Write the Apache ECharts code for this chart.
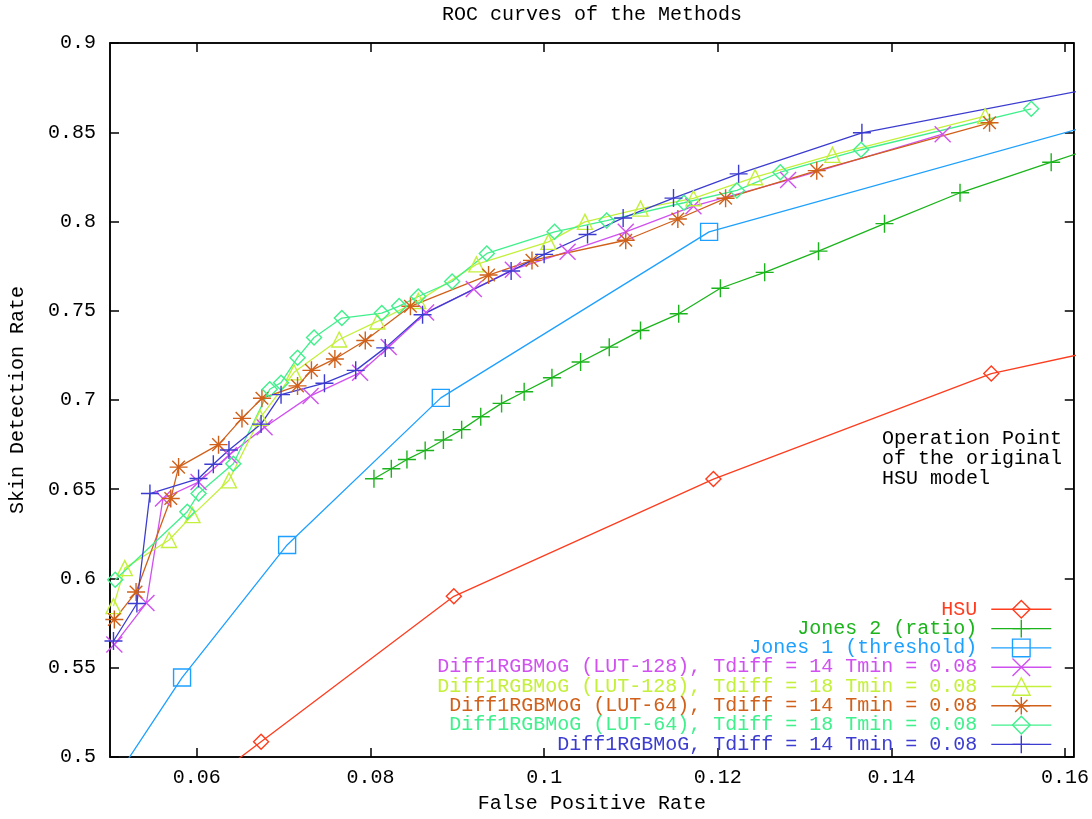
<!DOCTYPE html>
<html>
<head>
<meta charset="utf-8">
<script src="https://cdn.jsdelivr.net/npm/echarts@6/dist/echarts.min.js"></script>
<style>
html,body{margin:0;padding:0;background:#fff;}
#chart{width:1092px;height:819px;}
</style>
</head>
<body>
<div id="chart"></div>
<script>
// tick values
var xTicks = [0.06, 0.08, 0.1, 0.12, 0.14, 0.16];
var yTicks = [0.5, 0.55, 0.6, 0.65, 0.7, 0.75, 0.8, 0.85, 0.9];

// curves [false positive rate, detection rate]
var hsu = [[0.0555,0.465],[0.0674,0.5085],[0.0896,0.590],[0.1195,0.6557],[0.1515,0.7148],[0.175,0.7395]];
var jones2 = [[0.0804,0.6559],[0.0824,0.6615],[0.0842,0.6667],[0.0863,0.6717],[0.0884,0.6776],[0.0905,0.6834],
	[0.0927,0.6906],[0.0951,0.6981],[0.0977,0.7046],[0.1009,0.7125],[0.1042,0.7213],[0.1075,0.7296],[0.1111,0.7389],
	[0.1155,0.7483],[0.1203,0.7626],[0.1254,0.7715],[0.1316,0.7834],[0.1392,0.7988],[0.1479,0.8161],[0.1584,0.8332],[0.168,0.849]];
var jones1 = [[0.049,0.476],[0.0583,0.5445],[0.0704,0.6188],[0.0881,0.7012],[0.119,0.7942],[0.172,0.866]];
var lut128t14 = [[0.0505,0.563],[0.0542,0.5863],[0.0561,0.6448],[0.0602,0.654],[0.0637,0.669],[0.0678,0.6847],
	[0.0731,0.7023],[0.0788,0.7153],[0.0821,0.7297],[0.0864,0.749],[0.0919,0.7622],[0.0964,0.773],[0.1027,0.7831],
	[0.1094,0.7942],[0.1172,0.8086],[0.1281,0.8232],[0.1459,0.8489]];
var lut128t18 = [[0.0504,0.5845],[0.0517,0.6058],[0.0568,0.6216],[0.0595,0.6355],[0.0637,0.655],[0.0673,0.69],
	[0.0712,0.7155],[0.0764,0.7339],[0.0808,0.744],[0.0855,0.7555],[0.0922,0.776],[0.1005,0.7886],[0.1047,0.7998],
	[0.1111,0.8072],[0.1172,0.813],[0.1243,0.8248],[0.1332,0.8373],[0.1508,0.8591]];
var lut64t14 = [[0.0505,0.577],[0.053,0.5924],[0.057,0.6448],[0.0579,0.6624],[0.0625,0.675],[0.0652,0.6897],
	[0.0675,0.701],[0.0716,0.7079],[0.0732,0.7166],[0.0759,0.723],[0.0794,0.7333],[0.0846,0.7525],[0.0936,0.77],
	[0.0986,0.7782],[0.1094,0.7895],[0.1154,0.8014],[0.1209,0.813],[0.1314,0.8285],[0.1513,0.8553]];
var lut64t18 = [[0.0506,0.5993],[0.0589,0.6374],[0.0602,0.6476],[0.0642,0.6643],[0.0684,0.706],[0.0697,0.7097],
	[0.0716,0.7237],[0.0735,0.735],[0.0767,0.7459],[0.0813,0.7487],[0.0833,0.7526],[0.0855,0.758],[0.0894,0.7664],
	[0.0934,0.7821],[0.1012,0.7942],[0.1072,0.8005],[0.1161,0.8105],[0.1222,0.8174],[0.1272,0.8276],[0.1365,0.8402],[0.1561,0.8631]];
var diffT14 = [[0.0504,0.565],[0.0531,0.586],[0.0546,0.6476],[0.0602,0.656],[0.0619,0.664],[0.0637,0.672],
	[0.0674,0.6865],[0.0697,0.703],[0.0747,0.7094],[0.0783,0.7166],[0.0817,0.7292],[0.086,0.7478],[0.0962,0.7723],
	[0.1,0.7816],[0.105,0.7927],[0.1091,0.802],[0.1149,0.8131],[0.1224,0.8267],[0.1366,0.8497],[0.17,0.881]];

var FONT = 'Liberation Mono';
var FS = 20;
var PLUS = 'path://M0,5L10,5M5,0L5,10';
var CROSS = 'path://M0,0L10,10M10,0L0,10';
var STAR = 'path://M0,5L10,5M5,0L5,10M1.5,1.5L8.5,8.5M8.5,1.5L1.5,8.5';

// name, data, colour, symbol, size
var curves = [
	['HSU', hsu, '#ff3c1e', 'diamond', 15],
	['Jones 2 (ratio)', jones2, '#1cb41c', PLUS, 18],
	['Jones 1 (threshold)', jones1, '#1ea0ff', 'rect', 17],
	['Diff1RGBMoG (LUT-128), Tdiff = 14 Tmin = 0.08', lut128t14, '#d050f0', CROSS, 16],
	['Diff1RGBMoG (LUT-128), Tdiff = 18 Tmin = 0.08', lut128t18, '#c4f03c', 'triangle', 15],
	['Diff1RGBMoG (LUT-64), Tdiff = 14 Tmin = 0.08', lut64t14, '#d0601a', STAR, 18],
	['Diff1RGBMoG (LUT-64), Tdiff = 18 Tmin = 0.08', lut64t18, '#40f08c', 'diamond', 15],
	['Diff1RGBMoG, Tdiff = 14 Tmin = 0.08', diffT14, '#3c3cd0', PLUS, 18]
];

function fmt(v){ return String(parseFloat(v.toFixed(2))); }

var series = [], legendData = [];
for (var i = 0; i < curves.length; i++) {
	var c = curves[i];
	series.push({
		name: c[0], type: 'line', data: c[1],
		symbol: c[3], symbolSize: c[4], showAllSymbol: true, clip: true,
		lineStyle: {color: c[2], width: 1.3},
		itemStyle: {color: 'none', borderColor: c[2], borderWidth: 1.4},
		emphasis: {disabled: true}
	});
	legendData.push({
		name: c[0], textStyle: {color: c[2]},
		lineStyle: {color: c[2], width: 1.4},
		itemStyle: {color: 'none', borderColor: c[2], borderWidth: 1.4}
	});
}

var txt = {fontFamily: FONT, fontSize: FS, color: '#000'};
var frame = {show: true, lineStyle: {color: '#000', width: 1.5}};

var chart = echarts.init(document.getElementById('chart'));
chart.setOption({
	animation: false,
	backgroundColor: '#fff',
	title: {text: 'ROC curves of the Methods', left: 587, top: 0, textAlign: 'center',
		textStyle: {fontFamily: FONT, fontSize: FS, fontWeight: 'normal', color: '#000'}},
	grid: {left: 100, right: 17, top: 43, bottom: 57, show: true, borderColor: '#000', borderWidth: 1.5},
	legend: {
		orient: 'vertical', align: 'right', right: 40, top: 598, padding: 0,
		itemWidth: 60, itemHeight: 22, itemGap: -3.3,
		textStyle: {fontFamily: FONT, fontSize: FS, lineHeight: 16, padding: [0, 9, 0, 0]},
		data: legendData
	},
	xAxis: [{
		type: 'value', min: 0.05, max: 0.161, position: 'bottom',
		name: 'False Positive Rate', nameLocation: 'middle', nameGap: 37, nameTextStyle: txt,
		axisLine: frame,
		axisTick: {inside: true, length: 9, customValues: xTicks, lineStyle: {color: '#000', width: 1.5}},
		axisLabel: Object.assign({customValues: xTicks, margin: 11, formatter: fmt}, txt),
		splitLine: {show: false}
	}, {
		type: 'value', min: 0.05, max: 0.161, position: 'top',
		axisLine: frame,
		axisTick: {inside: true, length: 9, customValues: xTicks, lineStyle: {color: '#000', width: 1.5}},
		axisLabel: {show: false}, splitLine: {show: false}
	}],
	yAxis: [{
		type: 'value', min: 0.5, max: 0.9, interval: 0.05, position: 'left',
		name: 'Skin Detection Rate', nameLocation: 'middle', nameGap: 82, nameRotate: 90, nameTextStyle: txt,
		axisLine: frame,
		axisTick: {inside: true, length: 9, customValues: yTicks, lineStyle: {color: '#000', width: 1.5}},
		axisLabel: Object.assign({customValues: yTicks, margin: 14, formatter: fmt}, txt),
		splitLine: {show: false}
	}, {
		type: 'value', min: 0.5, max: 0.9, interval: 0.05, position: 'right',
		axisLine: frame,
		axisTick: {inside: true, length: 9, customValues: yTicks, lineStyle: {color: '#000', width: 1.5}},
		axisLabel: {show: false}, splitLine: {show: false}
	}],
	graphic: [
		{type: 'text', left: 882, top: 429, style: {text: 'Operation Point\nof the original\nHSU model',
			font: FS + 'px "Liberation Mono"', fill: '#000', lineHeight: 20}}
	],
	series: series
});
</script>
</body>
</html>
